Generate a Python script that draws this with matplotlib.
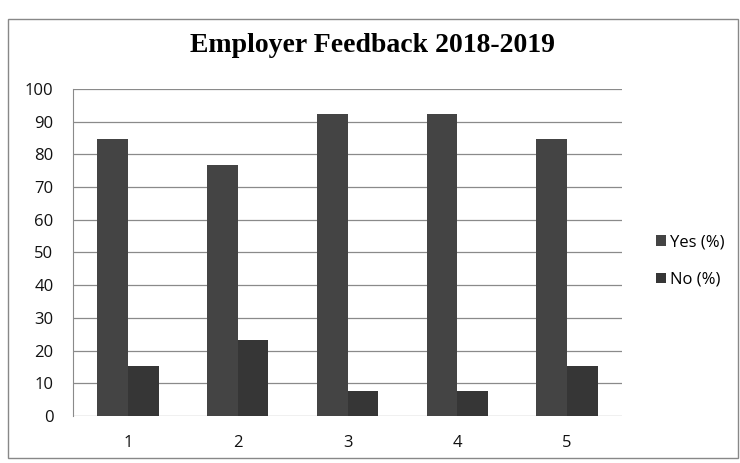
import numpy as np
import matplotlib.pyplot as plt
from matplotlib.patches import Rectangle

categories = ['1', '2', '3', '4', '5']
yes_pct = [84.6, 76.9, 92.3, 92.3, 84.6]
no_pct = [15.4, 23.1, 7.7, 7.7, 15.4]
yticks = list(range(0, 101, 10))

fig = plt.figure(figsize=(7.4, 4.63), dpi=100)
W, H = 740, 463
ax = fig.add_axes([73 / W, 1 - 416 / H, (622 - 73) / W, (416 - 89) / H])

x = np.arange(len(categories))
w = 0.28
ax.bar(x - w / 2, yes_pct, w, color='#444444', label='Yes (%)', zorder=3)
ax.bar(x + w / 2, no_pct, w, color='#363636', label='No (%)', zorder=3)

ax.set_ylim(0, 100)
ax.set_xlim(-0.5, 4.5)
ax.set_yticks(yticks)
ax.set_xticks(x)
ax.set_xticklabels(categories)
ax.yaxis.grid(True, color='#8a8a8a', lw=0.9, zorder=0)
ax.tick_params(length=0, labelsize=12, colors='#111111')
ax.tick_params(axis='x', pad=14)
ax.tick_params(axis='y', pad=14)
for lab in ax.get_xticklabels() + ax.get_yticklabels():
    lab.set_family('Open Sans')
for s in ['top', 'right', 'bottom']:
    ax.spines[s].set_visible(False)
ax.spines['left'].set_color('#8a8a8a')
ax.spines['left'].set_linewidth(0.8)

fig.text(372 / W, 1 - 45 / H, 'Employer Feedback 2018-2019', ha='center', va='center',
         fontsize=20, fontweight='bold', family='Liberation Serif')

fig.legend(loc='center left', bbox_to_anchor=(641 / W, 1 - 261 / H), frameon=False,
           prop={'family': 'Open Sans', 'size': 12}, handlelength=0.6, handleheight=0.6,
           handletextpad=0.25, labelspacing=1.3)

fig.patches.append(Rectangle((8 / W, 1 - 458 / H), 730 / W, 439 / H, transform=fig.transFigure,
                             fill=False, edgecolor='#888888', lw=1.0))

fig.savefig('out.png', dpi=100)
